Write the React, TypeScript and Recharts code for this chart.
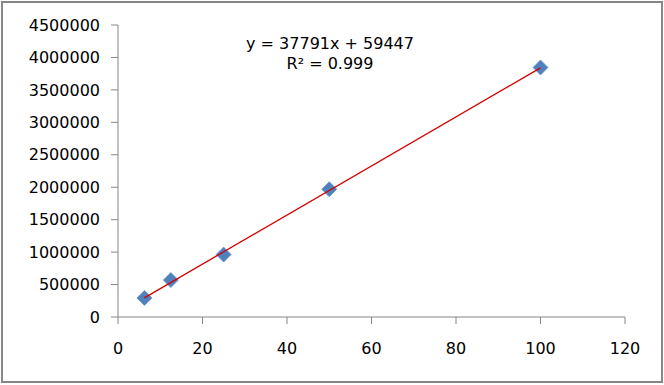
import React from 'react';
import { ScatterChart, Scatter, XAxis, YAxis } from 'recharts';

// concentration vs. response
const xValues = [6.25, 12.5, 25, 50, 100];
const yValues = [293000, 569000, 962000, 1969000, 3845000];
const xTicks = [0, 20, 40, 60, 80, 100, 120];
const yTicks = [0, 500000, 1000000, 1500000, 2000000, 2500000, 3000000, 3500000, 4000000, 4500000];

// linear trendline as printed on the chart
const slope = 37791;
const intercept = 59447;
const trendX = [6.25, 100];

const points = xValues.map((x, i) => ({ x, y: yValues[i] }));
const trend = trendX.map((x) => ({ x, y: slope * x + intercept }));

const axisColor = '#868686';
const font = 'DejaVu Sans, sans-serif';

const Diamond = (props: any) => {
  const { cx, cy } = props;
  const r = 7.5;
  return (
    <polygon
      points={`${cx},${cy - r} ${cx + r},${cy} ${cx},${cy + r} ${cx - r},${cy}`}
      fill="#4F81BD"
      stroke="#6a94c8"
      strokeWidth={0.8}
    />
  );
};

export default function App() {
  return (
    <div
      style={{
        position: 'absolute',
        left: 0,
        top: 0,
        width: 664,
        height: 385,
        background: '#fff',
        fontFamily: font,
      }}
    >
      <div
        style={{
          position: 'absolute',
          left: 1,
          top: 1,
          width: 662,
          height: 382,
          border: `2px solid ${axisColor}`,
          boxSizing: 'border-box',
        }}
      />
      <ScatterChart
        width={664}
        height={385}
        margin={{ top: 25, right: 39, bottom: 0, left: 0 }}
      >
        <XAxis
          type="number"
          dataKey="x"
          domain={[0, 120]}
          ticks={xTicks}
          interval={0}
          tickSize={7}
          tickMargin={19}
          height={68}
          stroke={axisColor}
          tick={{ fill: '#000', fontSize: 16, fontFamily: font }}
        />
        <YAxis
          type="number"
          dataKey="y"
          domain={[0, 4500000]}
          ticks={yTicks}
          interval={0}
          tickSize={7}
          tickMargin={11}
          width={118}
          stroke={axisColor}
          tick={{ fill: '#000', fontSize: 16, fontFamily: font }}
        />
        <Scatter data={points} shape={<Diamond />} isAnimationActive={false} />
        <Scatter
          data={trend}
          line={{ stroke: '#d40000', strokeWidth: 1.3 }}
          shape={() => null}
          isAnimationActive={false}
        />
      </ScatterChart>
      <div
        style={{
          position: 'absolute',
          left: 230,
          top: 34,
          width: 200,
          textAlign: 'center',
          fontSize: 16,
          lineHeight: '20px',
          color: '#000',
        }}
      >
        <div>y = 37791x + 59447</div>
        <div>R² = 0.999</div>
      </div>
    </div>
  );
}
